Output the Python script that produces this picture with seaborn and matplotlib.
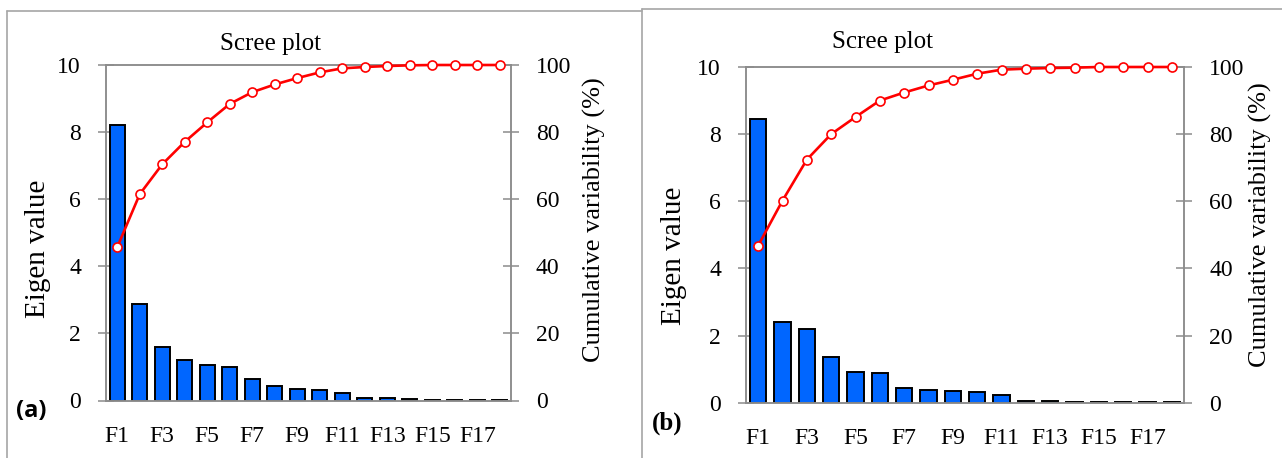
import numpy as np
import pandas as pd
import matplotlib
matplotlib.use("Agg")
import matplotlib.pyplot as plt
from matplotlib.lines import Line2D
import seaborn as sns

# ---------------- data ----------------
factors = [f"F{i}" for i in range(1, 19)]

eigen_a = [8.22, 2.87, 1.58, 1.21, 1.05, 0.99, 0.65, 0.43, 0.34, 0.31,
           0.21, 0.08, 0.06, 0.04, 0.02, 0.01, 0.01, 0.01]
cumvar_a = [45.7, 61.5, 70.4, 77.1, 82.9, 88.4, 91.9, 94.2, 96.1, 97.8,
            99.0, 99.4, 99.7, 99.9, 100.0, 100.0, 100.0, 100.0]

eigen_b = [8.45, 2.41, 2.21, 1.36, 0.91, 0.89, 0.43, 0.37, 0.34, 0.32,
           0.22, 0.05, 0.04, 0.03, 0.02, 0.01, 0.01, 0.01]
cumvar_b = [46.8, 60.2, 72.4, 80.0, 85.1, 90.0, 92.4, 94.5, 96.2, 98.0,
            99.2, 99.5, 99.7, 99.8, 100.0, 100.0, 100.0, 100.0]

left_ticks = [0, 2, 4, 6, 8, 10]
right_ticks = [0, 20, 40, 60, 80, 100]

title = "Scree plot"
ylabel_left = "Eigen value"
ylabel_right = "Cumulative variability (%)"

# ---------------- style ----------------
sns.set_style("white")
plt.rcParams["font.family"] = ["Liberation Serif", "DejaVu Serif"]
plt.rcParams["text.color"] = "black"
plt.rcParams["xtick.labelcolor"] = "black"
plt.rcParams["ytick.labelcolor"] = "black"

W, H = 1282, 458
fig = plt.figure(figsize=(W / 100, H / 100), dpi=100)

GREY = "#8c8c8c"
BAR = "#0066ff"
RED = "#ff0000"


def fx(px):
    return px / W


def fy(py):
    return 1 - py / H


def panel(rect, eig, cum):
    ax = fig.add_axes(rect)
    df = pd.DataFrame({"factor": factors, "eigen": eig, "cum": cum})
    sns.barplot(data=df, x="factor", y="eigen", ax=ax, color=BAR,
                saturation=1, edgecolor="black", linewidth=1.4, width=0.68,
                zorder=2)
    n = len(factors)
    ax.set_xlim(-0.5, n - 0.5)
    ax.set_ylim(0, 10)
    ax.set_yticks(left_ticks)
    ax.set_yticklabels([str(t) for t in left_ticks])
    ax.set_xticks(np.arange(-0.5, n, 1.0))
    ax.set_xticklabels([""] * (n + 1))
    ax.set_xticks(np.arange(0, n, 2), minor=True)
    ax.set_xticklabels(factors[::2], minor=True)
    ax.tick_params(axis="x", which="major", direction="inout", length=11,
                   width=1.1, color=GREY)
    ax.tick_params(axis="x", which="minor", length=0, labelsize=17, pad=18,
                   labelcolor="black")
    ax.tick_params(axis="y", direction="inout", length=11, width=1.1,
                   color=GREY, labelsize=17, pad=12.5, left=True,
                   labelcolor="black")
    ax.set_xlabel("")
    ax.set_ylabel("")
    for s in ax.spines.values():
        s.set_color(GREY)
        s.set_linewidth(1.1)
        s.set_visible(True)

    ax2 = ax.twinx()
    sns.lineplot(data=df, x=np.arange(n), y="cum", ax=ax2, color=RED,
                 linewidth=1.9, marker="o", markersize=6.5,
                 markerfacecolor="white", markeredgecolor=RED,
                 markeredgewidth=1.2, clip_on=False, zorder=5)
    ax2.set_ylim(0, 100)
    ax2.set_yticks(right_ticks)
    ax2.set_yticklabels([str(t) for t in right_ticks])
    ax2.tick_params(axis="y", direction="inout", length=11, width=1.1,
                    color=GREY, labelsize=17, pad=12.5, right=True,
                    labelcolor="black")
    ax2.set_xlabel("")
    ax2.set_ylabel("")
    for s in ax2.spines.values():
        s.set_color(GREY)
        s.set_linewidth(1.1)
    return ax, ax2


# panel (a)
panel([fx(106), fy(400.5), fx(511 - 106), (400.5 - 65) / H], eigen_a, cumvar_a)
# panel (b)
panel([fx(746), fy(402.7), fx(1184 - 746), (402.7 - 67) / H], eigen_b, cumvar_b)

# titles and axis labels
fig.text(fx(271), fy(44), title, ha="center", va="center", fontsize=18)
fig.text(fx(882), fy(42), title, ha="center", va="center", fontsize=18)
fig.text(fx(38), fy(249), ylabel_left, rotation=90, ha="center", va="center",
         fontsize=21)
fig.text(fx(674), fy(256), ylabel_left, rotation=90, ha="center", va="center",
         fontsize=21)
fig.text(fx(594), fy(220), ylabel_right, rotation=90, ha="center",
         va="center", fontsize=19)
fig.text(fx(1260), fy(225), ylabel_right, rotation=90, ha="center",
         va="center", fontsize=19)

# panel letters
fig.text(fx(31), fy(411), "(a)", ha="center", va="center", fontsize=17,
         fontweight="bold", family=["Open Sans", "DejaVu Sans"])
fig.text(fx(667), fy(423), "(b)", ha="center", va="center", fontsize=18,
         fontweight="bold")

# panel frames
BORDER = "#a6a6a6"
for (x0, y0, x1, y1) in [(7, 11, 642, 11), (7, 11, 7, 460), (642, 9, 642, 460),
                         (642, 9, 1283, 9)]:
    fig.add_artist(Line2D([fx(x0), fx(x1)], [fy(y0), fy(y1)], color=BORDER,
                          linewidth=1.2, transform=fig.transFigure))

fig.savefig("out.png", dpi=100)
